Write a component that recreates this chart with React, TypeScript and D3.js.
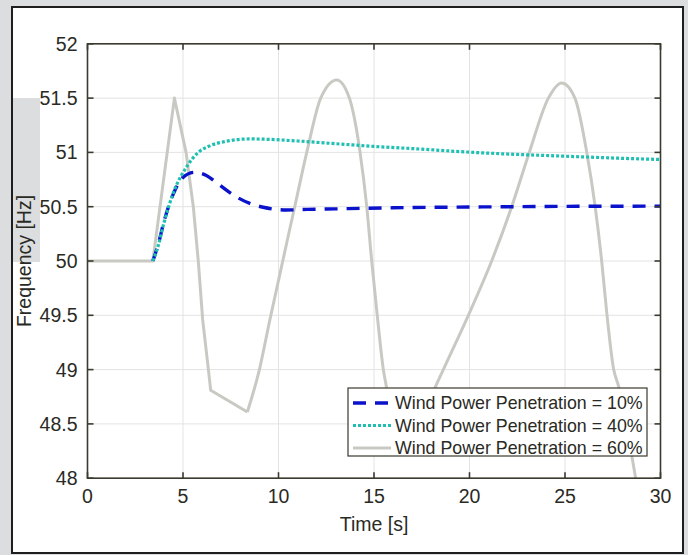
import React from 'react';
import { scaleLinear, line, curveMonotoneX, curveLinear } from 'd3';

const W = 688;
const H = 555;

// axis ticks
const timeTicks = [0, 5, 10, 15, 20, 25, 30];
const freqTicks = [48, 48.5, 49, 49.5, 50, 50.5, 51, 51.5, 52];

// Wind Power Penetration = 10%
const t10 = [3.42, 3.7, 4.0, 4.5, 5.0, 5.6, 6.2, 6.8, 7.8, 8.5, 9.2, 10.4, 11.5, 13, 16, 20, 25, 30];
const f10 = [50, 50.15, 50.36, 50.62, 50.77, 50.817, 50.79, 50.715, 50.59, 50.53, 50.495, 50.47, 50.475, 50.48, 50.49, 50.497, 50.503, 50.505];

// Wind Power Penetration = 40%
const t40 = [3.42, 3.7, 4.0, 4.5, 5.2, 5.8, 6.4, 7.2, 8.5, 9.5, 11, 13, 15, 17.5, 19.5, 22, 25, 27.9, 30];
const f40 = [50, 50.14, 50.35, 50.63, 50.87, 51.0, 51.06, 51.1, 51.124, 51.12, 51.105, 51.08, 51.055, 51.03, 51.007, 50.985, 50.965, 50.946, 50.935];

// Wind Power Penetration = 60%
const t60 = [0, 3.42, 4.55, 5.16, 5.54, 5.8, 6.03, 6.33, 6.45, 8.37, 9.0, 9.55, 10.85, 11.48, 12.21, 13.05, 13.71, 14.27, 14.62, 14.88, 15.17, 15.49, 15.66, 16.0, 17.0, 18.19, 18.63, 19.94, 21.16, 22.21, 23.13, 24.13, 24.83, 25.52, 26.14, 26.58, 26.92, 27.2, 27.55, 27.8, 28.7, 29.0];
const f60 = [50, 50, 51.5, 51.0, 50.5, 50.0, 49.46, 49.0, 48.81, 48.61, 49.0, 49.46, 50.5, 51.0, 51.5, 51.667, 51.5, 51.0, 50.5, 50.0, 49.5, 49.0, 48.83, 48.4, 48.3, 48.83, 49.0, 49.5, 50.0, 50.5, 51.0, 51.5, 51.64, 51.5, 51.0, 50.5, 50.0, 49.5, 49.0, 48.85, 48.0, 47.7];
// index where the 60% curve stops being piecewise straight
const smoothFrom60 = 9;

const legendLabels = ['Wind Power Penetration = 10%', 'Wind Power Penetration = 40%', 'Wind Power Penetration = 60%'];

const axisColor = '#3a3a2e';
const textColor = '#2a2a24';
const font = '"Liberation Sans", Arial, sans-serif';

const App = () => {
    const left = 87.5, right = 660.5, top = 43.8, bottom = 478.2;
    const x = scaleLinear().domain([0, 30]).range([left, right]);
    const y = scaleLinear().domain([48, 52]).range([bottom, top]);

    const mk = (ts: number[], fs: number[], smooth: boolean) =>
        line<number>().x((_, i) => x(ts[i])).y((d) => y(d)).curve(smooth ? curveMonotoneX : curveLinear)(fs) || '';

    const gray = mk(t60.slice(0, smoothFrom60 + 1), f60.slice(0, smoothFrom60 + 1), false)
        + mk(t60.slice(smoothFrom60), f60.slice(smoothFrom60), true);

    const series = [
        { d: mk(t10, f10, true), stroke: '#0b12cc', width: 3.4, dash: '13 9' },
        { d: mk(t40, f40, true), stroke: '#1fc0b2', width: 3.2, dash: '3 2' },
        { d: gray, stroke: '#c9c9c4', width: 3, dash: 'none' },
    ];

    const lgX = 348, lgY = 388, lgW = 299, lgH = 68;
    const rowY = [403, 425.5, 448];

    return (
        <svg width={W} height={H} style={{ position: 'absolute', left: 0, top: 0 }} fontFamily={font}>
            <rect x={0} y={0} width={W} height={H} fill="#dcdddf" />
            <rect x={12} y={7} width={671} height={546} fill="#ffffff" stroke="#1e1e1e" strokeWidth={2} />
            <rect x={13} y={98} width={27} height={164} fill="#dcdddf" />
            <line x1={12} x2={12} y1={7} y2={553} stroke="#1e1e1e" strokeWidth={2} />
            <defs>
                <clipPath id="plotClip">
                    <rect x={left} y={top} width={right - left} height={bottom - top} />
                </clipPath>
            </defs>

            {/* grid */}
            {timeTicks.map(t => (
                <line key={'gx' + t} x1={x(t)} x2={x(t)} y1={top} y2={bottom} stroke="#e3e3e3" strokeWidth={1} />
            ))}
            {freqTicks.map(f => (
                <line key={'gy' + f} x1={left} x2={right} y1={y(f)} y2={y(f)} stroke="#e3e3e3" strokeWidth={1} />
            ))}

            {/* data: gray first, then blue, then cyan */}
            <g clipPath="url(#plotClip)" fill="none" strokeLinejoin="round">
                {[series[2], series[0], series[1]].map((s, i) => (
                    <path key={i} d={s.d} stroke={s.stroke} strokeWidth={s.width} strokeDasharray={s.dash} />
                ))}
            </g>

            {/* box + ticks */}
            <rect x={left} y={top} width={right - left} height={bottom - top} fill="none" stroke={axisColor} strokeWidth={1.6} />
            {timeTicks.map(t => (
                <g key={'tx' + t}>
                    <line x1={x(t)} x2={x(t)} y1={bottom} y2={bottom - 6} stroke={axisColor} strokeWidth={1.6} />
                    <line x1={x(t)} x2={x(t)} y1={top} y2={top + 6} stroke={axisColor} strokeWidth={1.6} />
                    <text x={x(t)} y={bottom + 25} textAnchor="middle" fontSize={19.5} fill={textColor}>{t}</text>
                </g>
            ))}
            {freqTicks.map(f => (
                <g key={'ty' + f}>
                    <line x1={left} x2={left + 6} y1={y(f)} y2={y(f)} stroke={axisColor} strokeWidth={1.6} />
                    <line x1={right} x2={right - 6} y1={y(f)} y2={y(f)} stroke={axisColor} strokeWidth={1.6} />
                    <text x={left - 10} y={y(f)} dy="0.36em" textAnchor="end" fontSize={19.5} fill={textColor}>{f}</text>
                </g>
            ))}

            <text x={(left + right) / 2} y={531} textAnchor="middle" fontSize={19.5} fill={textColor}>Time [s]</text>
            <text transform={`translate(31, ${y(50)}) rotate(-90)`} textAnchor="middle" fontSize={19.5} fill={textColor}>Frequency [Hz]</text>

            {/* legend */}
            <rect x={lgX} y={lgY} width={lgW} height={lgH} fill="#ffffff" stroke={axisColor} strokeWidth={1.2} />
            {series.map((s, i) => (
                <g key={'lg' + i}>
                    <line x1={353} x2={391} y1={rowY[i]} y2={rowY[i]} stroke={s.stroke} strokeWidth={s.width} strokeDasharray={s.dash} />
                    <text x={395} y={rowY[i]} dy="0.36em" fontSize={17.8} fill={textColor}>{legendLabels[i]}</text>
                </g>
            ))}
        </svg>
    );
};

export default App;
